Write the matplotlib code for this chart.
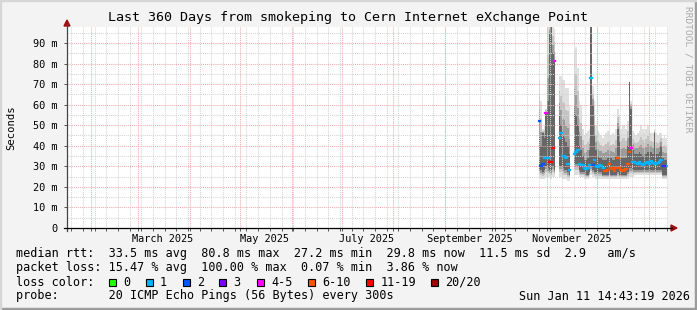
"""
SmokePing style graph: last 360 days, smokeping -> Cern Internet eXchange Point
"""
import numpy as np
import pandas as pd
import matplotlib
matplotlib.use("Agg")
import matplotlib.pyplot as plt
import matplotlib.dates as mdates
from matplotlib.lines import Line2D
from matplotlib.patches import Rectangle, Polygon

W, H = 697, 310
nan = np.nan

# daily values (ms), Oct 27 2025 .. Jan 11 2026
days = pd.date_range("2025-10-27", "2026-01-11", freq="D")

median_ms = [52, 30, 31, 34, 56, 34, 32, 32, 39, 81, nan, nan,
             44, 46, 35, 35, 34, 31, 28, nan, nan,
             36, 37, 38, 31, 30.5, 30.5, 29, 28.5, 29, 30.5, 73, 30.5, 33, 30,
             29.5, 30.5, 30, 29, 27.5, 27.5, 28, 31, 29, 28.5, 27.5, 29, 34, 29,
             28, 27.5, 28, 28.5, 31, 37, 39, 32, 32, 31.5, 31, 32, 31, 30.5,
             31, 31.5, 32, 31, 32.5, 31.5, 31, 31, 31.5, 32, 33, 30, 30, 30]
loss_idx = [2, 2, 2, 1, 4, 1, 6, 6, 6, 4, -1, -1,
            1, 1, 1, 1, 1, 1, 1, -1, -1,
            1, 1, 1, 1, 1, 1, 1, 1, 1, 1, 1, 2, 1, 1,
            1, 1, 1, 1, 5, 5, 5, 5, 5, 5, 5, 5, 5, 5,
            5, 5, 5, 5, 5, 5, 4, 1, 1, 1, 1, 1, 1, 1,
            1, 1, 1, 1, 1, 1, 1, 1, 1, 1, 1, 2, 3, 1]
smoke_min = [25, 24, 24, 24, 25, 25, 25, 24, 25, 25, nan, nan,
             25, 25, 24, 24, 24, 23, 23, nan, nan,
             26, 26, 26, 25, 25, 25, 24, 24, 24, 25, 26, 25, 25, 24,
             24, 24, 24, 24, 24, 24, 24, 24, 24, 24, 24, 24, 24, 24,
             24, 24, 24, 24, 24, 25, 25, 25, 26, 26, 26, 26, 26, 26,
             26, 26, 26, 26, 26, 26, 26, 26, 26, 26, 26, 24, 24, 24]
core_lo = [28, 28, 27, 28, 30, 29, 28, 28, 30, 28, nan, nan,
           30, 30, 29, 28, 28, 27, 26, nan, nan,
           31, 31, 31, 28, 27, 27, 27, 26, 26, 27, 30, 28, 27, 27,
           27, 27, 27, 26, 26, 26, 26, 27, 26, 26, 26, 26, 27, 26,
           26, 26, 26, 26, 27, 29, 29, 28, 28, 28, 28, 28, 28, 28,
           28, 28, 28, 28, 28, 28, 28, 28, 28, 28, 28, 26, 26, 26]
core_hi = [52, 40, 46, 44, 56, 62, 95, 99, 85, 81, nan, nan,
           55, 50, 45, 44, 42, 40, 36, nan, nan,
           60, 55, 50, 40, 38, 35, 33, 33, 34, 38, 99, 60, 45, 38,
           35, 34, 34, 33, 33, 33, 34, 36, 34, 33, 33, 35, 48, 42,
           34, 34, 34, 34, 40, 71, 58, 38, 36, 36, 36, 37, 36, 35,
           36, 36, 37, 36, 37, 36, 46, 36, 36, 37, 40, 34, 33, 33]
smoke_max = [72, 62, 48, 50, 58, 99, 99, 99, 99, 97, nan, nan,
             74, 74, 72, 72, 68, 68, 60, nan, nan,
             86, 88, 78, 62, 60, 48, 45, 46, 47, 48, 99, 69, 62, 50,
             47, 46, 45, 44, 45, 46, 47, 47, 45, 46, 45, 48, 58, 55,
             48, 50, 50, 48, 52, 71, 62, 47, 46, 45, 46, 47, 50, 48,
             46, 48, 50, 47, 46, 46, 48, 46, 45, 46, 46, 44, 45, 44]

loss_labels = ["0", "1", "2", "3", "4-5", "6-10", "11-19", "20/20"]
loss_colors = ["#22ff00", "#00b4ff", "#0055ff", "#7a00ff",
               "#ff00ff", "#ff5500", "#ff0000", "#a00000"]

title = "Last 360 Days from smokeping to Cern Internet eXchange Point"
rtt_line = "median rtt:  33.5 ms avg  80.8 ms max  27.2 ms min  29.8 ms now  11.5 ms sd  2.9   am/s"
loss_line = "packet loss: 15.47 % avg  100.00 % max  0.07 % min  3.86 % now"
probe_line = "probe:       20 ICMP Echo Pings (56 Bytes) every 300s"
stamp = "Sun Jan 11 14:43:19 2026"

MONO = "DejaVu Sans Mono"
plt.rcParams["font.family"] = MONO


def px(x, y):
    return x / W, 1 - y / H


fig = plt.figure(figsize=(W / 100, H / 100), dpi=100, facecolor="#f3f3f3")
ax = fig.add_axes([67 / W, 1 - 228 / H, 601 / W, 201 / H])
ax.set_facecolor("white")

start = pd.Timestamp("2025-01-17 12:00")
end = start + pd.Timedelta(days=360)
ax.set_xlim(mdates.date2num(start), mdates.date2num(end))
ax.set_ylim(0, 201 / 2.056)

# step shaped series: one flat piece per day
t0 = mdates.date2num(days)
xs = np.column_stack([t0, t0 + 1]).ravel()


def steps(vals):
    return np.repeat(np.asarray(vals, dtype=float), 2)


lo_min, lo_core = steps(smoke_min), steps(core_lo)
hi_max, hi_core = steps(smoke_max), steps(core_hi)
shades = [(0.0, "#e0e0e0"), (0.4, "#c4c4c4"), (0.7, "#9c9c9c"), (1.0, "#666666")]
for f, c in shades:
    ax.fill_between(xs, lo_min + (lo_core - lo_min) * f,
                    hi_max + (hi_core - hi_max) * f,
                    color=c, linewidth=0, zorder=2)

# grid (drawn over the smoke like rrdtool)
minor_c, major_c = "#d4d4d4", "#f4aaaa"
dots = (0, (1, 1))
weeks = pd.date_range("2025-01-20", end, freq="W-MON")
months = pd.date_range("2025-02-01", end, freq="MS")
for w in weeks:
    ax.axvline(mdates.date2num(w), color=minor_c, lw=0.75, ls=dots, zorder=3)
for v in range(5, 100, 10):
    ax.axhline(v, color=minor_c, lw=0.75, ls=dots, zorder=3)
for m in months:
    ax.axvline(mdates.date2num(m), color=major_c, lw=0.75, ls=dots, zorder=3)
for v in range(10, 100, 10):
    ax.axhline(v, color=major_c, lw=0.75, ls=dots, zorder=3)

# median, one dash per day, coloured by loss
for k, c in enumerate(loss_colors):
    sel = np.asarray(loss_idx) == k
    if sel.any():
        ax.hlines(np.asarray(median_ms)[sel], t0[sel], t0[sel] + 1.0,
                  colors=c, lw=1.6, capstyle="projecting", zorder=4)

# axes, ticks
for s in ax.spines.values():
    s.set_visible(False)
label_months = pd.date_range("2025-03-01", "2025-11-01", freq="2MS")
ax.set_xticks(mdates.date2num(label_months + pd.Timedelta(days=15)))
ax.set_xticklabels([d.strftime("%B %Y") for d in label_months])
ax.set_xticks(mdates.date2num(weeks.union(months)), minor=True)
ax.tick_params(axis="x", which="major", length=0, pad=4.5, labelsize=7.4,
               colors="#000000")
ax.tick_params(axis="x", which="minor", length=2, width=0.7, color="#555555",
               direction="out")
ax.set_yticks(range(0, 100, 10))
ax.set_yticklabels(["0"] + ["%d m" % v for v in range(10, 100, 10)])
ax.tick_params(axis="y", length=2, width=0.7, color="#555555", pad=4.5,
               labelsize=7.4)

fig.add_artist(Line2D([px(67, 231)[0], px(67, 24)[0]],
                      [px(67, 231)[1], px(67, 24)[1]],
                      color="#444444", lw=0.9))
fig.add_artist(Line2D([px(64, 228)[0], px(672, 228)[0]],
                      [px(64, 228)[1], px(672, 228)[1]],
                      color="#000000", lw=0.9))
fig.add_artist(Polygon([px(64, 26), px(70, 26), px(67, 20)], closed=True,
                       color="#a01010", transform=fig.transFigure))
fig.add_artist(Polygon([px(671, 225), px(671, 231), px(677, 228)], closed=True,
                       color="#a01010", transform=fig.transFigure))

# texts
fig.text(*px(348, 18), title, ha="center", va="center", fontsize=9.6)
fig.text(*px(11, 128), "Seconds", rotation=90, ha="center", va="center",
         fontsize=7.6)
fig.text(*px(688, 6), "RRDTOOL / TOBI OETIKER", rotation=270, ha="center",
         va="top", fontsize=6.8, color="#a9a9a9")

leg = 8.5
fig.text(*px(16, 254), rtt_line, ha="left", va="center", fontsize=leg)
fig.text(*px(16, 268), loss_line, ha="left", va="center", fontsize=leg)
fig.text(*px(16, 282), "loss color:", ha="left", va="center", fontsize=leg)
fig.text(*px(16, 296), probe_line, ha="left", va="center", fontsize=leg)
fig.text(*px(690, 296), stamp, ha="right", va="center", fontsize=leg)

box_x = [108.7, 145.7, 182.7, 219.3, 256.7, 307.7, 366, 430.7]
for bx, lab, c in zip(box_x, loss_labels, loss_colors):
    x0, y0 = px(bx, 286)
    fig.add_artist(Rectangle((x0, y0), 7 / W, 7 / H, facecolor=c,
                             edgecolor="black", lw=0.8,
                             transform=fig.transFigure))
    fig.text(*px(bx + 14.3, 282), lab, ha="left", va="center", fontsize=leg)

# frame
fig.add_artist(Rectangle((0, 0), 1, 2 / H, color="#9c9c9c",
                         transform=fig.transFigure))
fig.add_artist(Rectangle((1 - 2 / W, 0), 2 / W, 1, color="#9c9c9c",
                         transform=fig.transFigure))
fig.add_artist(Rectangle((0, 1 - 1 / H), 1, 1 / H, color="#d6d6d6",
                         transform=fig.transFigure))
fig.add_artist(Rectangle((0, 0), 1 / W, 1, color="#d6d6d6",
                         transform=fig.transFigure))

fig.savefig("out.png", dpi=100, facecolor=fig.get_facecolor())
